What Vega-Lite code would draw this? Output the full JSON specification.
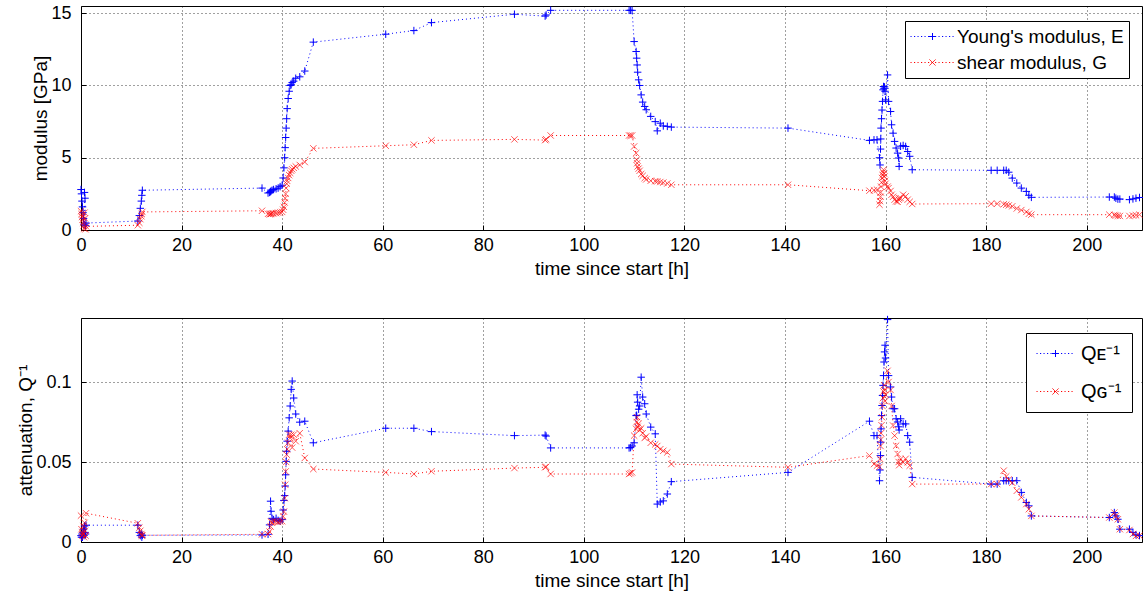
{
  "$schema": "https://vega.github.io/schema/vega-lite/v6.json",
  "background": "white",
  "padding": {"left": 16, "top": 3, "right": 0, "bottom": 0},
  "spacing": 34,
  "config": {
    "font": "Liberation Sans",
    "view": {"stroke": "#000", "strokeWidth": 1},
    "axis": {
      "labelFont": "Liberation Sans", "labelFontSize": 18, "labelColor": "#000", "labelFlush": false,
      "titleFont": "Liberation Sans", "titleFontSize": 19, "titleFontWeight": "normal", "titleColor": "#000",
      "grid": true, "gridColor": "#000", "gridDash": [1, 3], "gridOpacity": 0.75,
      "domain": false, "ticks": true, "tickColor": "#000", "tickSize": -5,
      "titlePadding": 5
    },
    "axisX": {"labelPadding": 11},
    "axisY": {"labelPadding": 15, "titlePadding": 0}
  },
  "data": {"values": [
    {"t":0.0,"E":2.8,"G":1.3,"QE":0.004,"QG":0.0165},
    {"t":0.1,"E":2.5,"G":1.1,"QE":0.003,"QG":0.008},
    {"t":0.2,"E":2.0,"G":0.9,"QE":0.005,"QG":0.006},
    {"t":0.3,"E":1.6,"G":0.7,"QE":0.003,"QG":0.004},
    {"t":0.4,"E":1.2,"G":0.5,"QE":0.006,"QG":0.005},
    {"t":0.5,"E":0.8,"G":0.3,"QE":0.008,"QG":0.010},
    {"t":0.6,"E":0.4,"G":0.1,"QE":0.004,"QG":0.003},
    {"t":0.7,"E":2.6,"G":1.2,"QE":0.010,"QG":0.012},
    {"t":0.8,"E":2.2,"G":0.8,"QE":0.006,"QG":0.007},
    {"t":0.9,"E":0.3,"G":0.05,"QE":0.005,"QG":0.004},
    {"t":1.0,"E":0.48,"G":0.25,"QE":0.0105,"QG":0.018},
    {"t":11.3,"E":0.62,"G":0.33,"QE":0.0105,"QG":0.0117},
    {"t":11.6,"E":1.0,"G":0.5,"QE":0.006,"QG":0.009},
    {"t":11.8,"E":1.5,"G":0.75,"QE":0.004,"QG":0.007},
    {"t":12.0,"E":2.0,"G":0.95,"QE":0.005,"QG":0.005},
    {"t":12.1,"E":2.4,"G":1.1,"QE":0.003,"QG":0.004},
    {"t":12.2,"E":2.75,"G":1.25,"QE":0.0042,"QG":0.0042},
    {"t":36.0,"E":2.9,"G":1.33,"QE":0.0044,"QG":0.0048},
    {"t":37.2,"E":2.56,"G":1.12,"QE":0.0048,"QG":0.005},
    {"t":37.5,"E":2.6,"G":1.1,"QE":0.0107,"QG":0.0065},
    {"t":37.7,"E":2.65,"G":1.1,"QE":0.0255,"QG":0.0096},
    {"t":37.8,"E":2.7,"G":1.12,"QE":0.0192,"QG":0.0128},
    {"t":38.0,"E":2.75,"G":1.15,"QE":0.0148,"QG":0.012},
    {"t":38.3,"E":2.8,"G":1.15,"QE":0.014,"QG":0.013},
    {"t":38.8,"E":2.85,"G":1.17,"QE":0.0148,"QG":0.0128},
    {"t":39.2,"E":2.9,"G":1.2,"QE":0.0135,"QG":0.0125},
    {"t":39.6,"E":3.0,"G":1.22,"QE":0.013,"QG":0.0128},
    {"t":40.0,"E":3.1,"G":1.25,"QE":0.014,"QG":0.013},
    {"t":40.2,"E":3.6,"G":1.4,"QE":0.02,"QG":0.016},
    {"t":40.35,"E":4.3,"G":1.6,"QE":0.026,"QG":0.019},
    {"t":40.5,"E":5.0,"G":1.9,"QE":0.029,"QG":0.0274},
    {"t":40.6,"E":5.7,"G":2.2,"QE":0.035,"QG":0.0358},
    {"t":40.7,"E":6.4,"G":2.5,"QE":0.042,"QG":0.0441},
    {"t":40.8,"E":7.05,"G":2.9,"QE":0.0504,"QG":0.05},
    {"t":40.9,"E":7.7,"G":3.2,"QE":0.0567,"QG":0.0546},
    {"t":41.0,"E":8.4,"G":3.4,"QE":0.063,"QG":0.058},
    {"t":41.2,"E":9.1,"G":3.6,"QE":0.0693,"QG":0.062},
    {"t":41.4,"E":9.6,"G":3.8,"QE":0.0776,"QG":0.0671},
    {"t":41.6,"E":10.0,"G":3.95,"QE":0.085,"QG":0.065},
    {"t":41.8,"E":10.05,"G":4.1,"QE":0.0954,"QG":0.067},
    {"t":42.0,"E":10.2,"G":4.2,"QE":0.1006,"QG":0.059},
    {"t":42.3,"E":10.3,"G":4.3,"QE":0.09,"QG":0.0671},
    {"t":42.7,"E":10.5,"G":4.4,"QE":0.08,"QG":0.063},
    {"t":43.5,"E":10.6,"G":4.5,"QE":0.0749,"QG":0.068},
    {"t":44.5,"E":11.0,"G":4.7,"QE":0.0755,"QG":0.0525},
    {"t":46.2,"E":13.0,"G":5.65,"QE":0.062,"QG":0.0456},
    {"t":60.6,"E":13.55,"G":5.83,"QE":0.0711,"QG":0.0435},
    {"t":66.2,"E":13.8,"G":5.9,"QE":0.0711,"QG":0.0425},
    {"t":69.7,"E":14.35,"G":6.2,"QE":0.069,"QG":0.0442},
    {"t":86.2,"E":14.93,"G":6.27,"QE":0.0665,"QG":0.0462},
    {"t":92.3,"E":14.8,"G":6.22,"QE":0.0668,"QG":0.0467},
    {"t":92.5,"E":14.88,"G":6.28,"QE":0.0662,"QG":0.047},
    {"t":93.4,"E":15.2,"G":6.54,"QE":0.0588,"QG":0.0425},
    {"t":109.0,"E":15.2,"G":6.54,"QE":0.0588,"QG":0.0425},
    {"t":109.3,"E":15.2,"G":6.52,"QE":0.059,"QG":0.043},
    {"t":109.6,"E":15.2,"G":6.54,"QE":0.06,"QG":0.0435},
    {"t":110.0,"E":13.04,"G":5.78,"QE":0.062,"QG":0.0665},
    {"t":110.4,"E":12.35,"G":5.32,"QE":0.079,"QG":0.0707},
    {"t":110.5,"E":11.89,"G":4.86,"QE":0.0792,"QG":0.075},
    {"t":110.6,"E":11.42,"G":4.62,"QE":0.092,"QG":0.078},
    {"t":110.7,"E":10.92,"G":4.4,"QE":0.0874,"QG":0.072},
    {"t":110.9,"E":10.39,"G":4.25,"QE":0.083,"QG":0.074},
    {"t":111.1,"E":10.0,"G":4.1,"QE":0.085,"QG":0.07},
    {"t":111.4,"E":9.35,"G":3.87,"QE":0.103,"QG":0.071},
    {"t":111.7,"E":8.85,"G":3.75,"QE":0.0906,"QG":0.068},
    {"t":112.1,"E":8.55,"G":3.59,"QE":0.0864,"QG":0.065},
    {"t":112.4,"E":8.32,"G":3.5,"QE":0.08,"QG":0.066},
    {"t":113.3,"E":7.86,"G":3.41,"QE":0.0718,"QG":0.062},
    {"t":114.2,"E":7.5,"G":3.38,"QE":0.0676,"QG":0.061},
    {"t":114.6,"E":6.86,"G":3.36,"QE":0.0237,"QG":0.06},
    {"t":115.2,"E":7.39,"G":3.32,"QE":0.025,"QG":0.058},
    {"t":115.8,"E":7.2,"G":3.28,"QE":0.0257,"QG":0.057},
    {"t":116.6,"E":7.17,"G":3.22,"QE":0.03,"QG":0.056},
    {"t":117.4,"E":7.12,"G":3.13,"QE":0.0377,"QG":0.0487},
    {"t":140.6,"E":7.05,"G":3.13,"QE":0.0435,"QG":0.0467},
    {"t":156.8,"E":6.2,"G":2.72,"QE":0.0755,"QG":0.054},
    {"t":157.7,"E":6.24,"G":2.75,"QE":0.0665,"QG":0.0487},
    {"t":158.3,"E":6.24,"G":2.79,"QE":0.0665,"QG":0.0477},
    {"t":158.8,"E":5.0,"G":1.75,"QE":0.0383,"QG":0.047},
    {"t":158.9,"E":4.5,"G":2.0,"QE":0.045,"QG":0.052},
    {"t":159.0,"E":5.6,"G":2.3,"QE":0.054,"QG":0.06},
    {"t":159.05,"E":6.3,"G":2.6,"QE":0.0624,"QG":0.064},
    {"t":159.1,"E":7.05,"G":3.0,"QE":0.0707,"QG":0.068},
    {"t":159.2,"E":7.7,"G":3.3,"QE":0.079,"QG":0.073},
    {"t":159.3,"E":8.3,"G":3.6,"QE":0.0853,"QG":0.078},
    {"t":159.4,"E":8.9,"G":3.8,"QE":0.0916,"QG":0.085},
    {"t":159.5,"E":9.7,"G":4.0,"QE":0.0979,"QG":0.09},
    {"t":159.6,"E":9.93,"G":4.17,"QE":0.104,"QG":0.094},
    {"t":159.7,"E":9.8,"G":3.9,"QE":0.1125,"QG":0.098},
    {"t":159.8,"E":9.9,"G":3.7,"QE":0.1188,"QG":0.095},
    {"t":159.9,"E":9.6,"G":3.4,"QE":0.123,"QG":0.088},
    {"t":160.0,"E":9.0,"G":3.2,"QE":0.115,"QG":0.092},
    {"t":160.4,"E":10.73,"G":3.0,"QE":0.139,"QG":0.107},
    {"t":160.6,"E":8.9,"G":2.9,"QE":0.104,"QG":0.1},
    {"t":161.0,"E":8.2,"G":2.7,"QE":0.0969,"QG":0.095},
    {"t":161.2,"E":7.28,"G":2.44,"QE":0.0906,"QG":0.085},
    {"t":161.5,"E":6.7,"G":2.3,"QE":0.0833,"QG":0.0728},
    {"t":161.8,"E":6.13,"G":2.1,"QE":0.0833,"QG":0.0665},
    {"t":162.1,"E":5.67,"G":1.98,"QE":0.077,"QG":0.0602},
    {"t":162.4,"E":5.32,"G":1.95,"QE":0.075,"QG":0.055},
    {"t":162.6,"E":4.98,"G":2.1,"QE":0.072,"QG":0.05},
    {"t":162.7,"E":4.4,"G":2.2,"QE":0.07,"QG":0.048},
    {"t":163.0,"E":5.8,"G":2.21,"QE":0.077,"QG":0.0519},
    {"t":163.5,"E":5.85,"G":2.44,"QE":0.0738,"QG":0.0498},
    {"t":164.0,"E":5.78,"G":2.33,"QE":0.0738,"QG":0.052},
    {"t":164.4,"E":5.43,"G":2.1,"QE":0.0665,"QG":0.0498},
    {"t":164.8,"E":5.1,"G":1.95,"QE":0.0624,"QG":0.0477},
    {"t":165.3,"E":4.17,"G":1.8,"QE":0.0404,"QG":0.0362},
    {"t":181.0,"E":4.13,"G":1.82,"QE":0.0362,"QG":0.0362},
    {"t":182.2,"E":4.13,"G":1.82,"QE":0.0362,"QG":0.0362},
    {"t":183.5,"E":4.13,"G":1.78,"QE":0.0383,"QG":0.0446},
    {"t":184.0,"E":4.13,"G":1.75,"QE":0.0383,"QG":0.041},
    {"t":184.5,"E":4.0,"G":1.7,"QE":0.0383,"QG":0.039},
    {"t":185.2,"E":3.59,"G":1.64,"QE":0.0383,"QG":0.037},
    {"t":186.1,"E":3.25,"G":1.49,"QE":0.0383,"QG":0.032},
    {"t":187.0,"E":2.9,"G":1.38,"QE":0.031,"QG":0.0279},
    {"t":188.0,"E":2.67,"G":1.25,"QE":0.0247,"QG":0.0237},
    {"t":188.5,"E":2.4,"G":1.12,"QE":0.0226,"QG":0.0205},
    {"t":189.0,"E":2.26,"G":1.06,"QE":0.0163,"QG":0.0163},
    {"t":204.5,"E":2.28,"G":1.06,"QE":0.0153,"QG":0.0153},
    {"t":205.5,"E":2.28,"G":1.04,"QE":0.0184,"QG":0.0184},
    {"t":205.8,"E":2.2,"G":1.0,"QE":0.0163,"QG":0.0163},
    {"t":206.2,"E":2.14,"G":0.98,"QE":0.0142,"QG":0.0142},
    {"t":206.6,"E":2.14,"G":0.97,"QE":0.008,"QG":0.008},
    {"t":208.5,"E":2.1,"G":0.97,"QE":0.008,"QG":0.0075},
    {"t":209.2,"E":2.15,"G":1.0,"QE":0.006,"QG":0.005},
    {"t":209.8,"E":2.2,"G":1.02,"QE":0.0045,"QG":0.0038},
    {"t":210.5,"E":2.25,"G":1.06,"QE":0.004,"QG":0.004}
  ]},
  "resolve": {"scale": {"color": "independent"}, "legend": {"color": "independent"}},
  "vconcat": [
    {
      "width": 1061, "height": 224,
      "transform": [{"fold": ["E", "G"], "as": ["series", "value"]}],
      "encoding": {
        "x": {"field": "t", "type": "quantitative", "scale": {"domain": [0, 211], "nice": false},
              "axis": {"values": [0, 20, 40, 60, 80, 100, 120, 140, 160, 180, 200], "title": "time since start [h]"}},
        "y": {"field": "value", "type": "quantitative", "scale": {"domain": [0, 15.5], "nice": false},
              "axis": {"values": [0, 5, 10, 15], "title": "modulus [GPa]"}},
        "color": {"field": "series", "type": "nominal", "scale": {"domain": ["E", "G"], "range": ["#0000ff", "#ff0000"]},
          "legend": {
            "title": null, "orient": "none", "legendX": 824, "legendY": 15,
            "labelExpr": "datum.label == 'E' ? \"Young's modulus, E\" : 'shear modulus, G'",
            "labelFont": "Liberation Sans", "labelFontSize": 19, "labelColor": "#000", "labelLimit": 400,
            "strokeColor": "#000", "fillColor": "#fff", "padding": 5, "cornerRadius": 0,
            "symbolSize": 400, "symbolStrokeWidth": 1, "symbolOpacity": 1, "labelOffset": 26, "rowPadding": 5,
            "symbolType": "M-1,0h0.12M-0.65,0h0.12M-0.3,0h0.12M0.05,0h0.12M0.4,0h0.12M0.75,0h0.12M1.1,0h0.12M1.45,0h0.12M1.8,0h0.12M2.15,0h0.12M2.5,0h0.12M2.85,0h0.12M3.2,0h0.12M0.85,0H1.55M1.2,-0.35V0.35",
            "encode": {"symbols": {"update": {
              "shape": {"signal": "datum.value == 'E' ? 'M-1,0h0.12M-0.65,0h0.12M-0.3,0h0.12M0.05,0h0.12M0.4,0h0.12M0.75,0h0.12M1.1,0h0.12M1.45,0h0.12M1.8,0h0.12M2.15,0h0.12M2.5,0h0.12M2.85,0h0.12M3.2,0h0.12M0.85,0H1.55M1.2,-0.35V0.35' : 'M-1,0h0.12M-0.65,0h0.12M-0.3,0h0.12M0.05,0h0.12M0.4,0h0.12M0.75,0h0.12M1.1,0h0.12M1.45,0h0.12M1.8,0h0.12M2.15,0h0.12M2.5,0h0.12M2.85,0h0.12M3.2,0h0.12M0.9,-0.3L1.5,0.3M0.9,0.3L1.5,-0.3'"},
              "stroke": {"signal": "datum.value == 'E' ? '#0000ff' : '#ff0000'"},
              "fill": {"value": "transparent"},
              "strokeDash": {"value": [1, 0]}
            }}}
          }}
      },
      "layer": [
        {"mark": {"type": "line", "strokeWidth": 1, "strokeDash": [1, 3]}, "encoding": {}},
        {"transform": [{"filter": "datum.series == 'E'"}],
         "mark": {"type": "point", "filled": false, "strokeWidth": 1, "shape": "M-1,0H1M0,-1V1", "size": 56, "opacity": 1},
         "encoding": {}},
        {"transform": [{"filter": "datum.series == 'G'"}],
         "mark": {"type": "point", "filled": false, "strokeWidth": 1, "shape": "M-1,-1L1,1M-1,1L1,-1", "size": 40, "opacity": 0.65},
         "encoding": {}}
      ]
    },
    {
      "width": 1061, "height": 224,
      "transform": [{"fold": ["QE", "QG"], "as": ["series", "value"]}],
      "encoding": {
        "x": {"field": "t", "type": "quantitative", "scale": {"domain": [0, 211], "nice": false},
              "axis": {"values": [0, 20, 40, 60, 80, 100, 120, 140, 160, 180, 200], "title": "time since start [h]"}},
        "y": {"field": "value", "type": "quantitative", "scale": {"domain": [0, 0.14], "nice": false},
              "axis": {"values": [0, 0.05, 0.1], "format": ".2~f", "title": "attenuation, Q⁻¹"}},
        "color": {"field": "series", "type": "nominal", "scale": {"domain": ["QE", "QG"], "range": ["#0000ff", "#ff0000"]},
          "legend": {
            "title": null, "orient": "none", "legendX": 945, "legendY": 15,
            "labelExpr": "datum.label == 'QE' ? 'Qᴇ⁻¹' : 'Qɢ⁻¹'",
            "labelFont": "Liberation Sans", "labelFontSize": 20, "labelColor": "#000", "labelLimit": 400,
            "strokeColor": "#000", "fillColor": "#fff", "padding": 10, "cornerRadius": 0,
            "symbolSize": 400, "symbolStrokeWidth": 1, "symbolOpacity": 1, "labelOffset": 24, "rowPadding": 17,
            "symbolType": "M-1,0h0.12M-0.65,0h0.12M-0.3,0h0.12M0.05,0h0.12M0.4,0h0.12M0.75,0h0.12M1.1,0h0.12M1.45,0h0.12M1.8,0h0.12M2.15,0h0.12M2.5,0h0.12M0.55,0H1.25M0.9,-0.35V0.35",
            "encode": {"symbols": {"update": {
              "shape": {"signal": "datum.value == 'QE' ? 'M-1,0h0.12M-0.65,0h0.12M-0.3,0h0.12M0.05,0h0.12M0.4,0h0.12M0.75,0h0.12M1.1,0h0.12M1.45,0h0.12M1.8,0h0.12M2.15,0h0.12M2.5,0h0.12M0.55,0H1.25M0.9,-0.35V0.35' : 'M-1,0h0.12M-0.65,0h0.12M-0.3,0h0.12M0.05,0h0.12M0.4,0h0.12M0.75,0h0.12M1.1,0h0.12M1.45,0h0.12M1.8,0h0.12M2.15,0h0.12M2.5,0h0.12M0.6,-0.3L1.2,0.3M0.6,0.3L1.2,-0.3'"},
              "stroke": {"signal": "datum.value == 'QE' ? '#0000ff' : '#ff0000'"},
              "fill": {"value": "transparent"},
              "strokeDash": {"value": [1, 0]}
            }}}
          }}
      },
      "layer": [
        {"mark": {"type": "line", "strokeWidth": 1, "strokeDash": [1, 3]}, "encoding": {}},
        {"transform": [{"filter": "datum.series == 'QE'"}],
         "mark": {"type": "point", "filled": false, "strokeWidth": 1, "shape": "M-1,0H1M0,-1V1", "size": 56, "opacity": 1},
         "encoding": {}},
        {"transform": [{"filter": "datum.series == 'QG'"}],
         "mark": {"type": "point", "filled": false, "strokeWidth": 1, "shape": "M-1,-1L1,1M-1,1L1,-1", "size": 40, "opacity": 0.65},
         "encoding": {}}
      ]
    }
  ]
}
